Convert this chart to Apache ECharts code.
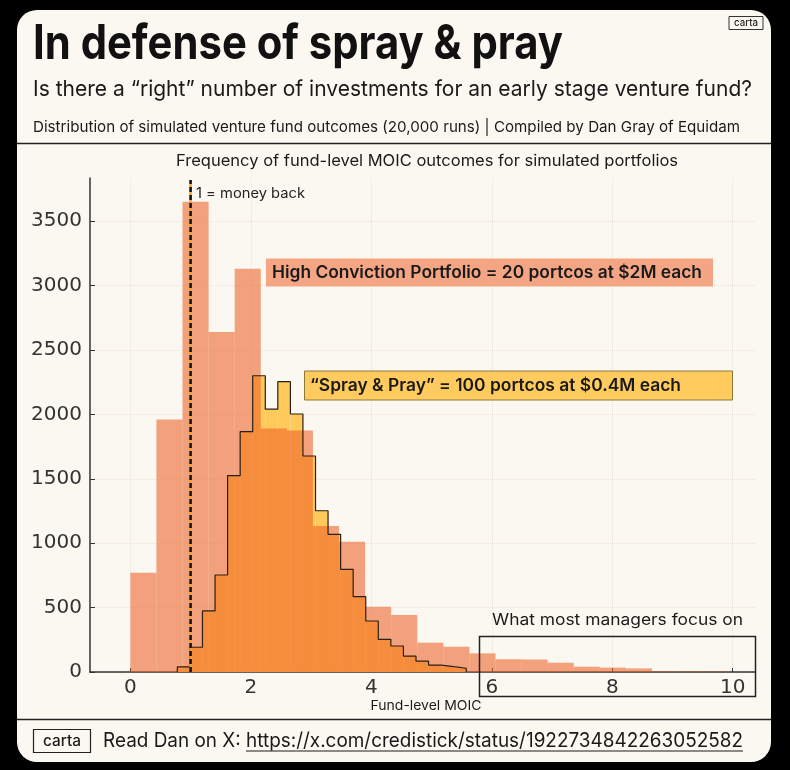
<!DOCTYPE html>
<html><head><meta charset="utf-8">
<script src="https://cdn.jsdelivr.net/npm/echarts@6/dist/echarts.min.js"></script>
<style>html,body{margin:0;padding:0;background:#000;}#c{width:790px;height:770px;}</style>
</head><body><div id="c"></div>
<script>
// ---- data ----
const hcEdges = [0, 0.433, 0.866, 1.299, 1.732, 2.165, 2.598, 3.031, 3.464, 3.897, 4.33, 4.763, 5.196, 5.629, 6.062, 6.495, 6.928, 7.361, 7.794, 8.227, 8.66, 9.093, 9.526, 9.959];
const hcCounts = [770, 1960, 3650, 2640, 3130, 1890, 1875, 1133, 1012, 507, 442, 228, 196, 145, 99, 97, 72, 41, 34, 28, 6, 4, 3];
const spEdges = [0.78, 0.989, 1.197, 1.406, 1.614, 1.823, 2.031, 2.240, 2.448, 2.657, 2.865, 3.074, 3.282, 3.491, 3.699, 3.908, 4.116, 4.325, 4.533, 4.742, 4.95, 5.159, 5.367, 5.576];
const spCounts = [40, 192, 474, 753, 1524, 1866, 2300, 2040, 2254, 2003, 1677, 1252, 1069, 797, 585, 396, 254, 202, 124, 85, 54, 41, 29];
const xTicks = [0, 2, 4, 6, 8, 10];
const yTicks = [0, 500, 1000, 1500, 2000, 2500, 3000, 3500];
const moneyBackX = 1;
const moneyBackTop = 3820;

const titleText = 'In defense of spray & pray';
const subtitleText = 'Is there a \u201cright\u201d number of investments for an early stage venture fund?';
const sourceText = 'Distribution of simulated venture fund outcomes (20,000 runs) | Compiled by Dan Gray of Equidam';
const chartTitleText = 'Frequency of fund-level MOIC outcomes for simulated portfolios';
const hcLabel = 'High Conviction Portfolio = 20 portcos at $2M each';
const spLabel = '\u201cSpray & Pray\u201d = 100 portcos at $0.4M each';
const moneyBackLabel = '1 = money back';
const focusLabel = 'What most managers focus on';
const xName = 'Fund-level MOIC';
const footerLead = 'Read Dan on X: ';
const footerUrl = 'https://x.com/credistick/status/1922734842263052582';
const brand = 'carta';

// ---- build ----
const hcData = hcCounts.map((v, i) => [hcEdges[i], hcEdges[i + 1], v]);
const spData = spCounts.map((v, i) => [spEdges[i], spEdges[i + 1], v]);
const spOutline = [[spEdges[0], 0]];
spCounts.forEach((v, i) => spOutline.push([spEdges[i], v]));
spOutline.push([spEdges[spEdges.length - 1], 0]);

const mctx = document.createElement('canvas').getContext('2d');
function measure(text, font) { mctx.font = font; return mctx.measureText(text).width; }
function fitText(text, font, x, y, w, fill, align) {
  align = align || 'left';
  const s = w / measure(text, font);
  return { type: 'text', x: x, y: y, scaleX: s, z: 100,
    style: { text: text, font: font, fill: fill, align: align, verticalAlign: 'middle', textAlign: align, textVerticalAlign: 'middle' } };
}
function barItem(color) {
  return function (params, api) {
    const p0 = api.coord([api.value(0), api.value(2)]);
    const p1 = api.coord([api.value(1), 0]);
    return { type: 'rect', shape: { x: p0[0], y: p0[1], width: p1[0] - p0[0], height: p1[1] - p0[1] }, style: { fill: color } };
  };
}

const footFont = '400 20px Inter';
const footScale = 640 / measure(footerLead + footerUrl, footFont);
const urlStart = 103 + footScale * measure(footerLead, footFont);

const graphics = [
  { type: 'rect', z: -10, shape: { x: 17, y: 10, width: 754, height: 752, r: 20 }, style: { fill: '#FBF8F2' } },
  fitText(titleText, '700 48px Inter', 33, 45, 530, '#111'),
  fitText(subtitleText, '400 22px Inter', 33, 89, 719, '#1a1a1a'),
  fitText(sourceText, '400 15px Inter', 33, 127.5, 707, '#1a1a1a'),
  { type: 'line', z: 100, shape: { x1: 17, y1: 143.5, x2: 771, y2: 143.5 }, style: { stroke: '#222', lineWidth: 1.5 } },
  { type: 'rect', z: 100, shape: { x: 729, y: 16.5, width: 34, height: 13 }, style: { fill: 'none', stroke: '#333', lineWidth: 1 } },
  fitText(brand, '500 10px Inter', 746, 23, 24, '#222', 'center'),
  fitText(chartTitleText, '400 16px Inter', 427, 161, 502, '#1a1a1a', 'center'),
  fitText(moneyBackLabel, '400 14px Inter', 196, 193.5, 109, '#222'),
  { type: 'rect', z: 100, shape: { x: 266, y: 258.5, width: 447, height: 28 }, style: { fill: '#F4A583' } },
  fitText(hcLabel, '600 17px Inter', 272, 272.5, 430, '#1a1a1a'),
  { type: 'rect', z: 100, shape: { x: 304.5, y: 371, width: 428, height: 29 }, style: { fill: '#FFCB5E', stroke: '#8a7a3a', lineWidth: 1 } },
  fitText(spLabel, '600 17px Inter', 310, 385.5, 371, '#1a1a1a'),
  fitText(focusLabel, '400 16px Inter', 492, 620, 251, '#1a1a1a'),
  { type: 'rect', z: 100, shape: { x: 479.5, y: 636.5, width: 276, height: 60 }, style: { fill: 'none', stroke: '#222', lineWidth: 1.5 } },
  fitText(xName, '400 13px Inter', 426, 706.5, 111, '#1a1a1a', 'center'),
  { type: 'line', z: 100, shape: { x1: 17, y1: 719.5, x2: 771, y2: 719.5 }, style: { stroke: '#222', lineWidth: 1.5 } },
  { type: 'rect', z: 100, shape: { x: 33.5, y: 729.5, width: 57, height: 23 }, style: { fill: 'none', stroke: '#222', lineWidth: 1.2 } },
  fitText(brand, '500 15px Inter', 62, 741, 38, '#1a1a1a', 'center'),
  { type: 'text', x: 103, y: 741, scaleX: footScale, z: 100,
    style: { text: footerLead + footerUrl, font: footFont, fill: '#1a1a1a', align: 'left', verticalAlign: 'middle', textAlign: 'left', textVerticalAlign: 'middle' } },
  { type: 'line', z: 100, shape: { x1: urlStart, y1: 751, x2: 743, y2: 751 }, style: { stroke: '#1a1a1a', lineWidth: 1 } }
];

const chart = echarts.init(document.getElementById('c'), null, { renderer: 'canvas' });
chart.setOption({
  animation: false,
  backgroundColor: '#000',
  graphic: graphics,
  grid: { left: 90, right: 35, top: 178, bottom: 98, containLabel: false },
  xAxis: {
    type: 'value', min: -0.67, max: 10.37,
    axisLine: { onZero: false, lineStyle: { color: '#333', width: 1.5 } },
    axisTick: { inside: true, length: 4, customValues: xTicks, lineStyle: { color: '#333' } },
    axisLabel: { customValues: xTicks, margin: 6, fontFamily: 'DejaVu Sans', fontSize: 20, color: '#333', formatter: v => String(v) },
    splitLine: { show: true, lineStyle: { color: 'rgba(120,90,60,0.12)', type: 'dotted', width: 1 } }
  },
  yAxis: {
    type: 'value', min: 0, max: 3835,
    axisLine: { show: true, onZero: false, lineStyle: { color: '#333', width: 1.5 } },
    axisTick: { show: true, inside: true, length: 5, customValues: yTicks, lineStyle: { color: '#333' } },
    axisLabel: { customValues: yTicks, margin: 8, fontFamily: 'DejaVu Sans', fontSize: 20, color: '#333', formatter: v => String(v) },
    splitLine: { show: true, lineStyle: { color: 'rgba(120,90,60,0.12)', type: 'dotted', width: 1 } }
  },
  series: [
    { type: 'custom', name: 'Spray & Pray', renderItem: barItem('#FFC95C'), data: spData, encode: { x: [0, 1], y: 2 }, z: 2 },
    { type: 'custom', name: 'High Conviction', renderItem: barItem('rgba(238,99,38,0.58)'), data: hcData, encode: { x: [0, 1], y: 2 }, z: 3 },
    { type: 'line', name: 'SP outline', data: spOutline, step: 'end', symbol: 'none', z: 4,
      lineStyle: { color: '#2a1f16', width: 1.2 } },
    { type: 'line', data: [[moneyBackX, 0], [moneyBackX, moneyBackTop]], symbol: 'none', z: 5,
      lineStyle: { color: '#F7A02E', width: 2.5 } },
    { type: 'line', data: [[moneyBackX, 0], [moneyBackX, moneyBackTop]], symbol: 'none', z: 6,
      lineStyle: { color: '#111', width: 2.5, type: [5, 3] } }
  ]
});
</script></body></html>
